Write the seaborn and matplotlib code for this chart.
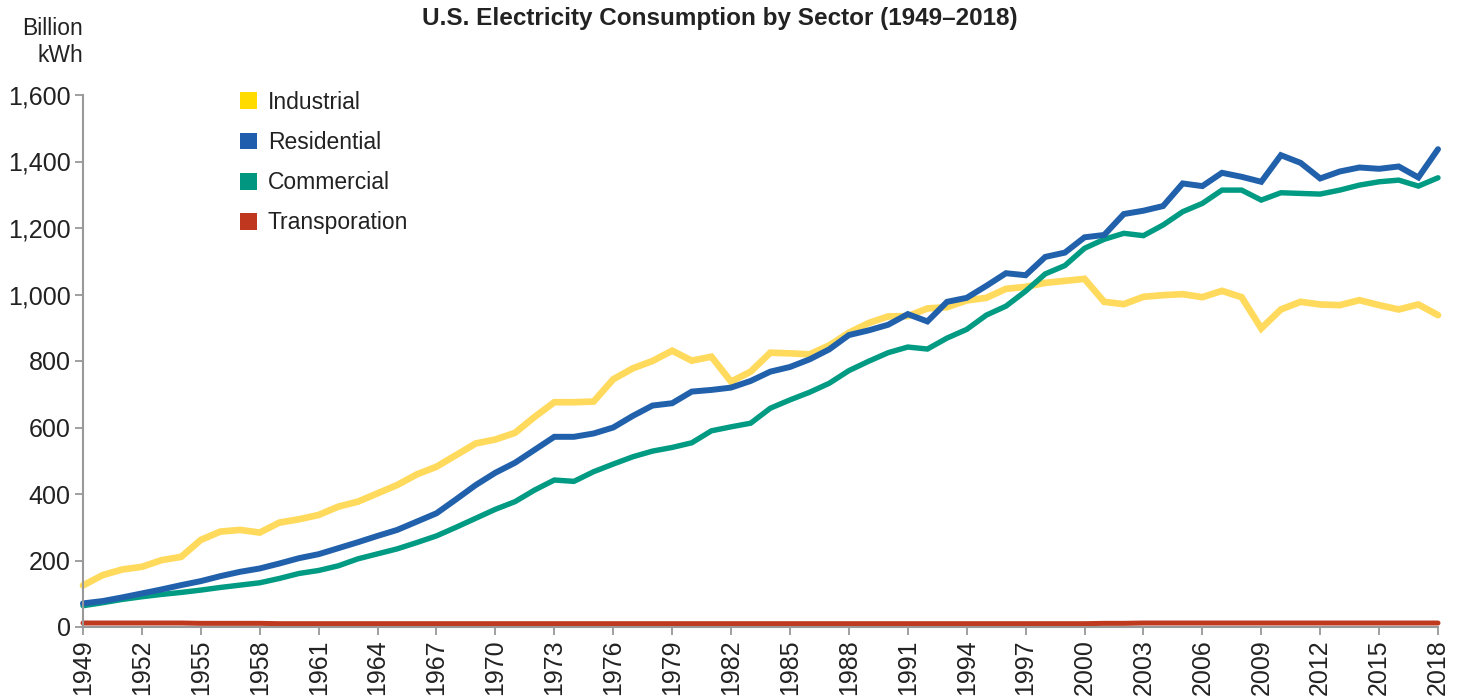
import numpy as np
import pandas as pd
import matplotlib
matplotlib.use("Agg")
import matplotlib.pyplot as plt
from matplotlib.patches import Patch
from matplotlib.ticker import FuncFormatter, FixedLocator
import seaborn as sns

years = list(range(1949, 2019))

industrial = [125, 156, 173, 181, 201, 211, 262, 287, 292, 284,
              314, 324, 337, 362, 377, 402, 427, 459, 482, 517,
              552, 564, 584, 632, 676, 676, 678, 745, 778, 800,
              831, 801, 813, 738, 768, 825, 823, 820, 847, 885,
              914, 934, 935, 958, 962, 982, 990, 1017, 1023, 1035,
              1041, 1047, 978, 971, 993, 998, 1001, 992, 1011, 992,
              898, 955, 978, 970, 968, 983, 968, 955, 970, 938]

residential = [71, 78, 89, 101, 113, 126, 138, 153, 166, 176,
               191, 207, 219, 237, 255, 274, 292, 317, 342, 384,
               427, 464, 494, 533, 572, 572, 582, 600, 635, 666,
               673, 708, 713, 720, 740, 768, 782, 805, 835, 878,
               892, 909, 941, 919, 978, 990, 1026, 1064, 1058, 1113,
               1126, 1172, 1179, 1242, 1252, 1266, 1334, 1326, 1366, 1354,
               1339, 1419, 1396, 1349, 1370, 1382, 1378, 1385, 1352, 1437]

commercial = [64, 73, 83, 91, 98, 104, 111, 119, 126, 133,
              146, 161, 170, 184, 205, 220, 235, 254, 274, 300,
              327, 354, 377, 412, 442, 438, 467, 490, 512, 529,
              540, 554, 590, 602, 613, 658, 683, 706, 733, 771,
              799, 825, 842, 836, 869, 895, 938, 965, 1010, 1062,
              1087, 1139, 1166, 1184, 1177, 1209, 1249, 1274, 1314, 1314,
              1284, 1306, 1304, 1302, 1314, 1329, 1339, 1344, 1326, 1351]

transportation = [12, 12, 12, 12, 12, 12, 11, 11, 11, 11,
                  10, 10, 10, 10, 10, 10, 10, 10, 10, 10,
                  10, 10, 10, 10, 10, 10, 10, 10, 10, 10,
                  10, 10, 10, 10, 10, 10, 10, 10, 10, 10,
                  10, 10, 10, 10, 10, 10, 10, 10, 10, 10,
                  10, 10, 11, 11, 12, 12, 12, 12, 12, 12,
                  12, 12, 12, 12, 12, 12, 12, 12, 12, 12]

sectors = ["Industrial", "Residential", "Commercial", "Transporation"]
line_colors = {"Industrial": "#FFDA5C", "Residential": "#2161AC",
               "Commercial": "#009B82", "Transporation": "#BF391F"}
legend_colors = {"Industrial": "#FFDB00", "Residential": "#1F5EAC",
                 "Commercial": "#009680", "Transporation": "#BE371E"}
line_widths = {"Industrial": 4.8, "Residential": 4.3,
               "Commercial": 3.9, "Transporation": 3.6}

y_ticks = [0, 200, 400, 600, 800, 1000, 1200, 1400, 1600]
x_ticks = list(range(1949, 2019, 3))

series = {"Industrial": industrial, "Residential": residential,
          "Commercial": commercial, "Transporation": transportation}

sns.set_theme(style="white")
plt.rcParams['font.family'] = ['Liberation Sans', 'DejaVu Sans']

fig = plt.figure(figsize=(14.62, 6.96), dpi=100)
ax = fig.add_axes([83/1462, 1 - 627/696, (1438 - 83)/1462, (627 - 95)/696])

draw_order = ["Transporation", "Industrial", "Commercial", "Residential"]
for s in draw_order:
    df = pd.DataFrame({"Year": years, "Value": series[s]})
    sns.lineplot(data=df, x="Year", y="Value", ax=ax, color=line_colors[s],
                 linewidth=line_widths[s], clip_on=False,
                 solid_joinstyle="miter", solid_capstyle="round")

ax.set_xlim(1949, 2018)
ax.set_ylim(0, 1600)
ax.set_xlabel("")
ax.set_ylabel("")
ax.xaxis.set_major_locator(FixedLocator(x_ticks))
ax.yaxis.set_major_locator(FixedLocator(y_ticks))
ax.yaxis.set_major_formatter(FuncFormatter(lambda v, p: f"{int(v):,}"))
ax.tick_params(axis="x", labelrotation=90, labelsize=18, length=6, width=1.3,
               color="#999999", pad=3, labelcolor="#222222", bottom=True)
ax.tick_params(axis="y", labelsize=18, length=6, width=1.3, color="#999999",
               pad=3, labelcolor="#222222", left=True)
for sp in ["top", "right"]:
    ax.spines[sp].set_visible(False)
for sp in ["left", "bottom"]:
    ax.spines[sp].set_color("#999999")
    ax.spines[sp].set_linewidth(1.5)
ax.grid(False)

handles = [Patch(facecolor=legend_colors[s], edgecolor="none", label=s) for s in sectors]
leg = ax.legend(handles=handles, loc="upper left", bbox_to_anchor=(148/1355, 1.025),
                frameon=False, fontsize=16.5, handlelength=0.75, handleheight=0.75,
                handletextpad=0.45, labelspacing=0.75, borderaxespad=0)
for t in leg.get_texts():
    t.set_color("#222222")

fig.text(720/1462, 1 - 19/696, "U.S. Electricity Consumption by Sector (1949\u20132018)",
         ha="center", va="center", fontsize=17.5, fontweight="bold", color="#222222")
fig.text(83/1462, 1 - 42/696, "Billion\nkWh", ha="right", va="center",
         multialignment="right", fontsize=16.5, color="#222222", linespacing=1.25)

fig.savefig("out.png", dpi=100)
